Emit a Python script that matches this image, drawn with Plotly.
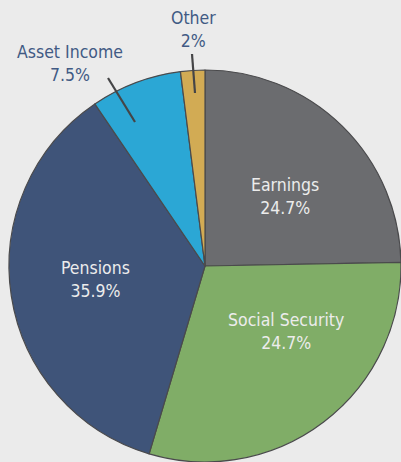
import plotly.graph_objects as go

W, H = 401, 462

categories = ["Earnings", "Social Security", "Pensions", "Asset Income", "Other"]
shares = [24.7, 29.9, 35.9, 7.5, 2.0]          # slice sizes as drawn
shown_pct = ["24.7%", "24.7%", "35.9%", "7.5%", "2%"]  # printed labels
colors = ["#6b6c6f", "#80ad67", "#3f5479", "#2ba7d5", "#d2ab54"]

# label anchor points in pixels (x from left, y from top)
label_px = [(285, 197), (286, 331), (95, 279), (70, 64), (193, 29)]
label_inside = [True, True, True, False, False]
leader_px = [None, None, None, ((108, 78), (135, 122)), ((192, 54), (195, 93))]

def px(x, y):
    return x / W, 1 - y / H

cx, cy, r = 205, 266, 196
fig = go.Figure(go.Pie(
    labels=categories,
    values=shares,
    sort=False,
    direction="clockwise",
    rotation=0,
    marker=dict(colors=colors, line=dict(color="#4a4a4c", width=1.2)),
    textinfo="none",
    hoverinfo="label+percent",
    showlegend=False,
    domain=dict(x=[max(0, (cx - r) / W), min(1, (cx + r) / W)],
                y=[max(0, (H - cy - r) / H), min(1, (H - cy + r) / H)]),
))

annotations = []
shapes = []
for cat, pct, (lx, ly), inside, lead in zip(categories, shown_pct, label_px, label_inside, leader_px):
    x, y = px(lx, ly)
    annotations.append(dict(
        x=x, y=y, xref="paper", yref="paper", showarrow=False,
        xanchor="center", yanchor="middle",
        text=f"{cat}<br>{pct}", align="center",
        font=dict(family="DejaVu Sans Condensed, Roboto, sans-serif", size=17.5,
                  color="#ececec" if inside else "#415a84"),
    ))
    if lead:
        (x0, y0), (x1, y1) = lead
        p0 = px(x0, y0); p1 = px(x1, y1)
        shapes.append(dict(type="line", xref="paper", yref="paper",
                           x0=p0[0], y0=p0[1], x1=p1[0], y1=p1[1],
                           line=dict(color="#454547", width=2.2)))

fig.update_layout(
    width=W, height=H,
    margin=dict(l=0, r=0, t=0, b=0),
    paper_bgcolor="#ebebeb",
    plot_bgcolor="#ebebeb",
    annotations=annotations,
    shapes=shapes,
)
fig.write_html("out.html", config={"displayModeBar": False},
               post_script="document.body.style.margin='0';document.body.style.overflow='hidden';")
